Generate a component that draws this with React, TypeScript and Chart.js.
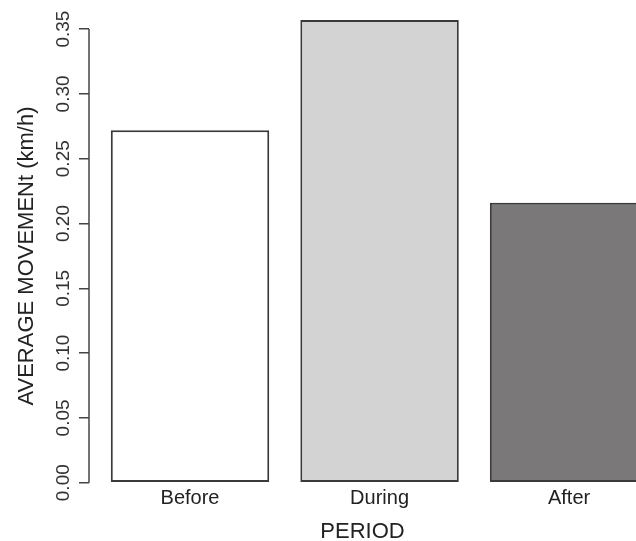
import { useEffect, useRef } from "react";
import { Chart, registerables } from "chart.js";

Chart.register(...registerables);

const categories = ["Before", "During", "After"];
const movement = [0.272, 0.357, 0.216];
const barColors = ["#ffffff", "#d3d3d3", "#7a7878"];
const yTicks = [0, 0.05, 0.1, 0.15, 0.2, 0.25, 0.3, 0.35];
const yTickLabels = ["0.00", "0.05", "0.10", "0.15", "0.20", "0.25", "0.30", "0.35"];
const yTitle = "AVERAGE MOVEMENt (km/h)";
const xTitle = "PERIOD";

const FONT = "'Liberation Sans', Arial, Helvetica, sans-serif";

// R-style y axis: line only spanning the tick range, plus the axis title
const rAxisPlugin = {
  id: "rAxis",
  afterDraw(chart: any) {
    const y = chart.scales.y;
    const area = chart.chartArea;
    const ctx = chart.ctx;
    ctx.save();
    ctx.strokeStyle = "#444";
    ctx.lineWidth = 1.5;
    ctx.beginPath();
    ctx.moveTo(y.right, y.getPixelForValue(yTicks[0]));
    ctx.lineTo(y.right, y.getPixelForValue(yTicks[yTicks.length - 1]));
    ctx.stroke();

    ctx.translate(y.left + 27, (area.top + area.bottom) / 2 + 12);
    ctx.rotate(-Math.PI / 2);
    ctx.fillStyle = "#222";
    ctx.font = `22px ${FONT}`;
    ctx.textAlign = "center";
    ctx.textBaseline = "middle";
    ctx.fillText(yTitle, 0, 0);
    ctx.restore();
  },
};

export default function App() {
  const ref = useRef<HTMLCanvasElement | null>(null);

  useEffect(() => {
    if (!ref.current) return;
    const chart = new Chart(ref.current, {
      type: "bar",
      data: {
        datasets: [
          {
            data: movement.map((v, i) => ({ x: i, y: v })),
            backgroundColor: barColors,
            borderColor: "#3a3a3a",
            borderWidth: 2,
            borderSkipped: false,
            barPercentage: 0.836,
            categoryPercentage: 1,
          },
        ],
      },
      options: {
        responsive: false,
        animation: false,
        devicePixelRatio: 1,
        layout: { padding: { top: 1, left: 0, right: 0, bottom: 0 } },
        plugins: {
          legend: { display: false },
          tooltip: { enabled: false },
        },
        scales: {
          x: {
            type: "linear",
            offset: false,
            min: -0.533,
            max: 2.353,
            grid: { display: false, drawTicks: false },
            border: { display: false },
            afterBuildTicks: (scale: any) => {
              scale.ticks = categories.map((_, i) => ({ value: i }));
            },
            afterFit: (scale: any) => {
              scale.height = 54;
              scale.paddingLeft = 0;
              scale.paddingRight = 0;
            },
            ticks: {
              autoSkip: false,
              maxRotation: 0,
              minRotation: 0,
              padding: -0.5,
              color: "#222",
              font: { family: FONT, size: 20 },
              callback: (_v: any, i: number) => categories[i],
            },
            title: {
              display: true,
              text: xTitle,
              color: "#222",
              font: { family: FONT, size: 22 },
              padding: { top: 0, bottom: -4 },
            },
          },
          y: {
            type: "linear",
            beginAtZero: false,
            min: -0.0033,
            max: 0.3717,
            grid: {
              display: true,
              drawOnChartArea: false,
              drawTicks: true,
              tickLength: 10,
              color: "#444",
              lineWidth: 1.5,
            },
            border: { display: false },
            afterBuildTicks: (scale: any) => {
              scale.ticks = yTicks.map((v) => ({ value: v }));
            },
            afterFit: (scale: any) => {
              scale.width = 89;
              scale.paddingTop = 0;
              scale.paddingBottom = 0;
            },
            ticks: {
              minRotation: 90,
              maxRotation: 90,
              crossAlign: "center",
              padding: -3.5,
              color: "#333",
              font: { family: FONT, size: 19 },
              callback: (_v: any, i: number) => yTickLabels[i],
            },
            title: { display: false },
          },
        },
      } as any,
      plugins: [rAxisPlugin],
    });
    return () => chart.destroy();
  }, []);

  return (
    <div style={{ position: "fixed", left: 0, top: 0, width: 636, height: 541, background: "#fff" }}>
      <canvas ref={ref} width={636} height={541} style={{ display: "block" }} />
    </div>
  );
}
